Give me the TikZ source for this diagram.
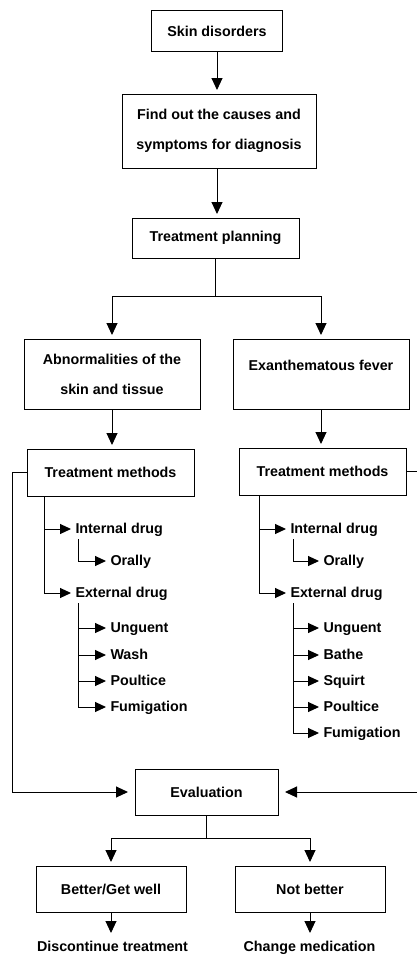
\documentclass[tikz,border=0pt]{standalone}
\usepackage{fontspec}
\setmainfont{Liberation Sans}
\usetikzlibrary{arrows.meta}
\begin{document}
\begin{tikzpicture}[x=1pt,y=1pt,line width=1pt,
    arr/.style={-{Triangle[length=12pt,width=11pt]}},
    sarr/.style={-{Triangle[length=11pt,width=10pt]}},
    item/.style={anchor=west,inner xsep=4pt,inner ysep=3pt,text height=11pt,text depth=2pt}]

      \useasboundingbox (0,0) rectangle (416,-958);

      \begin{scope}[every node/.style={draw,outer sep=0pt,inner sep=2pt,align=center,font=\bfseries\fontsize{14.3}{30}\selectfont}]
        \node[minimum width=131pt,minimum height=41pt] (skin) at (217,-31) {Skin disorders};
        \node[minimum width=194pt,minimum height=74pt] (find) at (219,-131) {Find out the causes and\\symptoms for diagnosis};
        \node[minimum width=167pt,minimum height=40pt] (plan) at (215.5,-238) {Treatment planning};
        \node[minimum width=176pt,minimum height=70pt] (catl) at (112,-374) {Abnormalities of the\\skin and tissue};
        \node[minimum width=176pt,minimum height=70pt,text depth=18pt] (catr) at (321,-374) {Exanthematous fever};
        \node[minimum width=167pt,minimum height=47pt] (tml) at (110.5,-472.5) {Treatment methods};
        \node[minimum width=167pt,minimum height=47pt] (tmr) at (322.5,-471.5) {Treatment methods};
        \node[minimum width=143pt,minimum height=46pt] (eval) at (206.5,-792) {Evaluation};
        \node[minimum width=150pt,minimum height=46pt] (better) at (111,-889) {Better/Get well};
        \node[minimum width=150pt,minimum height=46pt] (notb) at (310,-889) {Not better};
      \end{scope}

      \begin{scope}[every node/.style={font=\bfseries\fontsize{14.3}{16}\selectfont}]
        \node[item] (intl) at (71,-529) {Internal drug};
        \node[item] (orl)  at (106,-561) {Orally};
        \node[item] (extl) at (71,-593) {External drug};
        \node[item] (ungl) at (106,-628) {Unguent};
        \node[item] (wasl) at (106,-655) {Wash};
        \node[item] (poul) at (106,-681) {Poultice};
        \node[item] (fuml) at (106,-707) {Fumigation};
        \node[item] (intr) at (286,-529) {Internal drug};
        \node[item] (orr)  at (319,-561) {Orally};
        \node[item] (extr) at (286,-593) {External drug};
        \node[item] (ungr) at (319,-628) {Unguent};
        \node[item] (bath) at (319,-655) {Bathe};
        \node[item] (squi) at (319,-681) {Squirt};
        \node[item] (pour) at (319,-707) {Poultice};
        \node[item] (fumr) at (319,-733) {Fumigation};
        \node[inner sep=2pt,text height=10pt,text depth=3pt] (disc) at (112.5,-948) {Discontinue treatment};
        \node[inner sep=2pt,text height=10pt,text depth=3pt] (chan) at (309.5,-948) {Change medication};
      \end{scope}

      \begin{scope}[every edge/.style={draw,arr,shorten >=4pt}]
        \path (skin.south) edge (skin.south |- find.north);
        \path (skin.south |- find.south) edge (skin.south |- plan.north);
        \path (catl.south) edge (catl.south |- tml.north);
        \path (catr.south) edge (catr.south |- tmr.north);
        \path (better.south) edge[shorten >=6pt] (better.south |- disc.north);
        \path (notb.south) edge[shorten >=6pt] (notb.south |- chan.north);
      \end{scope}

      \draw[arr,shorten >=4pt] (plan.south) -- ++(0,-38) -| (catl.north);
      \draw[arr,shorten >=4pt] (plan.south) -- ++(0,-38) -| (catr.north);
      \draw[arr,shorten >=4pt] (eval.south) -- ++(0,-23) -| (better.north);
      \draw[arr,shorten >=4pt] (eval.south) -- ++(0,-23) -| (notb.north);
      \draw[arr,shorten >=7pt] (tml.west) -- ++(-15,0) |- (eval.west);
      \draw[arr,shorten >=7pt] (tmr.east) -- ++(12,0) |- (eval.east);

      \begin{scope}[sarr]
        \draw ([xshift=17pt]tml.south west) |- (intl.west);
        \draw ([xshift=17pt]tml.south west) |- (extl.west);
        \draw ([xshift=7pt]intl.south west) |- (orl.west);
        \draw ([xshift=7pt]extl.south west) |- (ungl.west);
        \draw ([xshift=7pt]extl.south west) |- (wasl.west);
        \draw ([xshift=7pt]extl.south west) |- (poul.west);
        \draw ([xshift=7pt]extl.south west) |- (fuml.west);
        \draw ([xshift=20pt]tmr.south west) |- (intr.west);
        \draw ([xshift=20pt]tmr.south west) |- (extr.west);
        \draw ([xshift=7pt]intr.south west) |- (orr.west);
        \draw ([xshift=7pt]extr.south west) |- (ungr.west);
        \draw ([xshift=7pt]extr.south west) |- (bath.west);
        \draw ([xshift=7pt]extr.south west) |- (squi.west);
        \draw ([xshift=7pt]extr.south west) |- (pour.west);
        \draw ([xshift=7pt]extr.south west) |- (fumr.west);
      \end{scope}

    \end{tikzpicture}
\end{document}
